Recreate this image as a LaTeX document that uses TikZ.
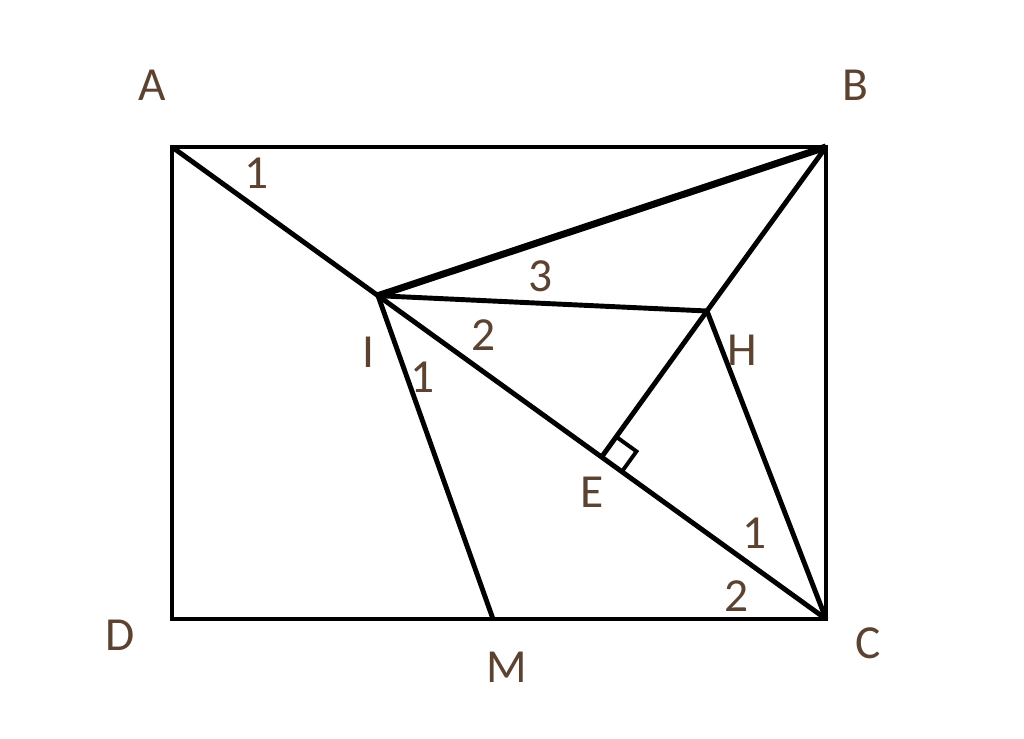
\documentclass[tikz,border=0pt]{standalone}
\usepackage{fontspec}
\setmainfont{Carlito}
\usepackage{tikz}
\usetikzlibrary{positioning,calc}
\definecolor{labelbrown}{RGB}{92,66,48}

\begin{document}
\begin{tikzpicture}
		\tikzset{seg/.style = {line width=1.4pt,line join=miter}}
		\tikzset{thickseg/.style = {line width=2pt}}
		\tikzset{lbl/.style = {text=labelbrown,inner sep=0pt,font=\fontsize{13.5}{16}\selectfont}}
		\useasboundingbox (0,0) rectangle (10.24,7.38);

		% corners of the rectangle
		\coordinate (A) at (1.72,5.91);
		\coordinate (B) at (8.26,5.91);
		\coordinate (C) at (8.26,1.19);
		\coordinate (D) at (1.72,1.19);

		% inner points
		\coordinate (I) at ($(A)!0.315!(C)$);
		\coordinate (H) at (7.07,4.27);
		\coordinate (E) at ($(I)!(H)!(C)$);
		\coordinate (M) at (4.93,1.19);

		% rectangle and diagonal
		\draw[seg] (A) -- (B) -- (C) -- (D) -- cycle;
		\draw[seg] (A) to (C);
		% segments from I
		\draw[thickseg] (I) to (B);
		\draw[seg] (I) to (H);
		\draw[seg] (I) to (M);
		% segments from H
		\draw[seg] (B) to (H);
		\draw[seg] (H) to (C);
		\draw[seg] (H) to (E);
		% right angle at E
		\coordinate (EP) at ($(E)!0.25cm!(C)$);
		\coordinate (EQ) at ($(E)!0.25cm!(H)$);
		\draw[line width=1.1pt] (EP) -- ($(EP)+(EQ)-(E)$) -- (EQ);

		% point labels
		\node[lbl] (lA) at (1.52,6.53) {A};
		\node[lbl] (lB) at (8.55,6.53) {B};
		\node[lbl] (lC) at (8.68,0.95) {C};
		\node[lbl] (lD) at (1.20,1.03) {D};
		\node[lbl] (lM) at (5.07,0.71) {M};
		\node[lbl] (lI) at (3.68,3.86) {I};
		\node[lbl] (lH) at (7.42,3.88) {H};
		\node[lbl] (lE) at (5.92,2.46) {E};

		% angle labels
		\node[lbl] (a1) at (2.57,5.65) {1};
		\node[lbl] (i3) at (5.41,4.62) {3};
		\node[lbl] (i2) at (4.84,4.03) {2};
		\node[lbl] (i1) at (4.23,3.61) {1};
		\node[lbl] (c1) at (7.55,2.05) {1};
		\node[lbl] (c2) at (7.37,1.42) {2};
	\end{tikzpicture}
\end{document}
